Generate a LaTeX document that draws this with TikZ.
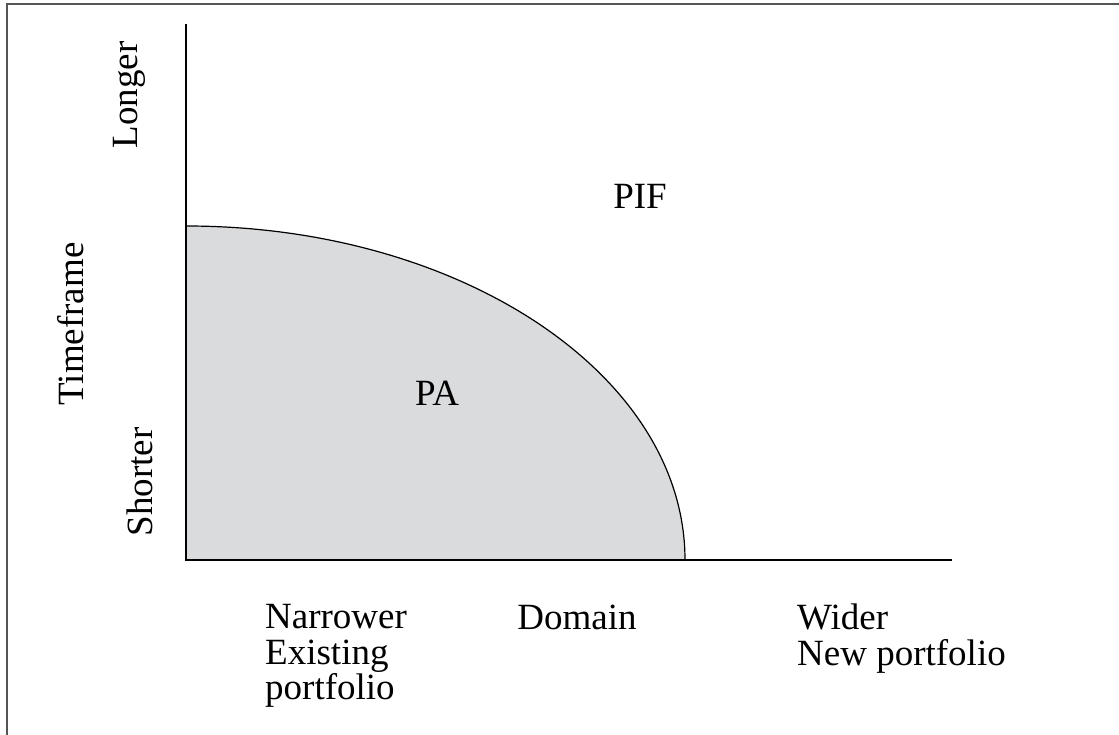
\documentclass[tikz,border=0pt]{standalone}
\usepackage{fontspec}
\setmainfont{Liberation Serif}
\definecolor{paGray}{RGB}{218,219,221}
\definecolor{frameGray}{RGB}{85,85,85}
\begin{document}
\begin{tikzpicture}[x=1pt,y=-1pt, every node/.style={font=\fontsize{37}{35.5}\selectfont,inner sep=0pt}]
\useasboundingbox (0,0) rectangle (1119,735);
\draw[frameGray,line width=2.2pt] (7,735) -- (7,4) -- (1119,4);
\coordinate (origin) at (186,560); \coordinate (ytop) at (186,24); \coordinate (xend) at (952,560);
\coordinate (paTop) at (186,226);
\fill[paGray] (origin) -- (paTop) arc[start angle=-90,end angle=0,x radius=499,y radius=334] -- cycle;
\draw[line width=1.2pt] (paTop) arc[start angle=-90,end angle=0,x radius=499,y radius=334];
\draw[line width=1.7pt] (ytop) -- (origin) -- (xend);
\node[rotate=90,anchor=base] (longer) at (137,95) {Longer};
\node[rotate=90,anchor=base] (timeframe) at (83,324) {Timeframe};
\node[rotate=90,anchor=base] (shorter) at (152,482) {Shorter};
\node[anchor=base] (pif) at (640,209) {PIF};
\node[anchor=base] (pa) at (437,405) {PA};
\node[anchor=base] (domain) at (577,629) {Domain};
\node[anchor=north west,align=left] (narrower) at (265,604.5) {Narrower\\Existing\\portfolio};
\node[anchor=north west,align=left] (wider) at (797,603.7) {Wider\\New portfolio};
\end{tikzpicture}
\end{document}
